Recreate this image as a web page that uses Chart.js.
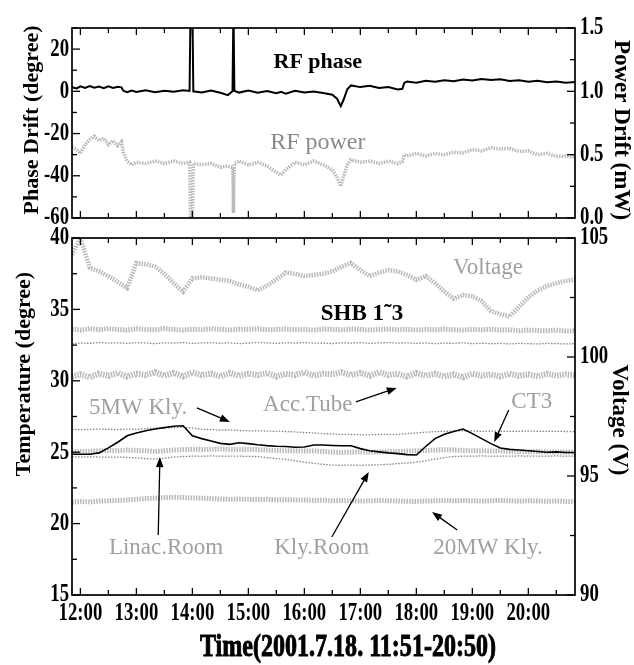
<!DOCTYPE html>
<html>
<head>
<meta charset="utf-8">
<script src="https://cdn.jsdelivr.net/npm/chart.js@4.4.1/dist/chart.umd.min.js"></script>
<style>
  html, body { margin: 0; padding: 0; background: #fff; }
  #wrap { position: relative; width: 634px; height: 665px; }
  canvas { position: absolute; left: 0; }
  #bottomChart { top: 220px; }
  #topChart { top: 0; }
</style>
</head>
<body>
<div id="wrap">
  <canvas id="bottomChart" width="634" height="445"></canvas>
  <canvas id="topChart" width="634" height="232"></canvas>
</div>
<script>
// Top panel: RF phase drift (degree) and RF power drift (mW)
const topTimes = [
  '11:51', '11:56', '12:00', '12:05', '12:10', '12:15', '12:20', '12:25', '12:30', '12:35',
  '12:40', '12:44', '12:46', '12:50', '12:55', '13:00', '13:10', '13:20', '13:30', '13:40',
  '13:50', '13:57', '13:58', '14:00', '14:01', '14:10', '14:20', '14:30', '14:38', '14:43',
  '14:44', '14:45', '14:50', '15:00', '15:10', '15:20', '15:30', '15:35', '15:40', '15:50',
  '16:00', '16:10', '16:20', '16:30', '16:35', '16:39', '16:42', '16:46', '16:50', '17:00',
  '17:10', '17:20', '17:30', '17:40', '17:45', '17:47', '17:50', '18:00', '18:10', '18:20',
  '18:30', '18:40', '18:50', '19:00', '19:10', '19:20', '19:30', '19:40', '19:50', '20:00',
  '20:10', '20:20', '20:30', '20:40', '20:50'
];
const rfPhase = [
  2.0, 1.4, 2.4, 1.6, 2.5, 1.7, 2.3, 1.5, 2.4, 1.6,
  2.2, 1.9, 0.3, -0.4, 0.4, -0.3, 0.5, -0.4, 0.3, -0.2,
  0.5, 0.2, 40, 40, 0.0, -0.6, 0.4, -0.7, -1.8, 0.0,
  40, 0.3, -0.6, 0.4, -0.7, 0.1, -0.9, -0.2, -1.1, 0.3,
  -0.6, -0.1, -0.8, -1.6, -3.5, -7.0, -4.0, 1.0, 2.8, 2.0,
  2.6, 1.6, 2.0, 0.9, 1.2, 4.0, 4.6, 4.1, 5.0, 4.5,
  5.3, 4.8, 5.6, 5.1, 5.8, 5.4, 5.7, 4.9, 5.3, 4.6,
  5.0, 4.3, 4.7, 4.1, 4.4
];
const rfPower = [
  0.56, 0.54, 0.51, 0.58, 0.62, 0.645, 0.61, 0.63, 0.58, 0.61,
  0.57, 0.60, 0.52, 0.45, 0.42, 0.44, 0.43, 0.45, 0.43, 0.45,
  0.43, 0.44, 0.0, 0.0, 0.43, 0.42, 0.43, 0.40, 0.41, 0.40,
  0.04, 0.43, 0.45, 0.42, 0.44, 0.41, 0.36, 0.34, 0.38, 0.44,
  0.42, 0.45, 0.42, 0.38, 0.32, 0.25, 0.33, 0.42, 0.46, 0.44,
  0.45, 0.43, 0.45, 0.43, 0.445, 0.50, 0.49, 0.51, 0.49, 0.51,
  0.50, 0.52, 0.515, 0.54, 0.53, 0.555, 0.545, 0.55, 0.525, 0.53,
  0.50, 0.51, 0.485, 0.49, 0.48
];

// Bottom panel: temperatures (degree) and voltage (V), 10 minute samples
const bottomTimes = [
  '11:51', '12:00', '12:10', '12:20', '12:30', '12:40', '12:50', '13:00', '13:10', '13:20',
  '13:30', '13:40', '13:50', '14:00', '14:10', '14:20', '14:30', '14:40', '14:50', '15:00',
  '15:10', '15:20', '15:30', '15:40', '15:50', '16:00', '16:10', '16:20', '16:30', '16:40',
  '16:50', '17:00', '17:10', '17:20', '17:30', '17:40', '17:50', '18:00', '18:10', '18:20',
  '18:30', '18:40', '18:50', '19:00', '19:10', '19:20', '19:30', '19:40', '19:50', '20:00',
  '20:10', '20:20', '20:30', '20:40', '20:50'
];
const voltage = [
  104.3, 105.0, 103.75, 103.6, 103.4, 103.15, 102.9, 103.95, 103.9, 103.8,
  103.5, 103.1, 102.75, 103.3, 103.35, 103.3, 103.25, 103.2, 103.05, 102.95,
  102.8, 103.0, 103.25, 103.55, 103.5, 103.4, 103.45, 103.5, 103.6, 103.8,
  103.95, 103.65, 103.4, 103.55, 103.65, 103.6, 103.45, 103.24, 103.4, 103.1,
  102.75, 102.45, 102.6, 102.55, 102.35, 101.93, 101.8, 101.7, 102.1, 102.5,
  102.8, 102.98, 103.1, 103.2, 103.25
];
const shb1 = [
  33.62, 33.55, 33.65, 33.58, 33.66, 33.60, 33.55, 33.64, 33.60, 33.57,
  33.66, 33.60, 33.55, 33.62, 33.58, 33.65, 33.60, 33.56, 33.62, 33.60,
  33.64, 33.57, 33.60, 33.63, 33.58, 33.60, 33.55, 33.62, 33.60, 33.57,
  33.63, 33.60, 33.55, 33.60, 33.62, 33.58, 33.60, 33.55, 33.60, 33.57,
  33.62, 33.58, 33.55, 33.60, 33.57, 33.62, 33.55, 33.58, 33.50, 33.55,
  33.52, 33.50, 33.55, 33.48, 33.50
];
const shb2 = [
  32.60, 32.65, 32.62, 32.68, 32.64, 32.66, 32.62, 32.67, 32.65, 32.60,
  32.66, 32.64, 32.68, 32.62, 32.65, 32.67, 32.63, 32.66, 32.60, 32.64,
  32.68, 32.65, 32.62, 32.66, 32.64, 32.68, 32.63, 32.65, 32.60, 32.66,
  32.64, 32.67, 32.62, 32.65, 32.68, 32.64, 32.66, 32.62, 32.65, 32.60,
  32.64, 32.62, 32.66, 32.60, 32.63, 32.60, 32.62, 32.58, 32.62, 32.60,
  32.58, 32.62, 32.60, 32.58, 32.60
];
const accTube = [
  30.30, 30.45, 30.25, 30.50, 30.35, 30.55, 30.30, 30.50, 30.40, 30.60,
  30.35, 30.55, 30.30, 30.60, 30.40, 30.50, 30.30, 30.55, 30.35, 30.50,
  30.40, 30.55, 30.30, 30.50, 30.40, 30.60, 30.35, 30.50, 30.45, 30.60,
  30.40, 30.55, 30.35, 30.60, 30.40, 30.50, 30.30, 30.55, 30.35, 30.50,
  30.30, 30.45, 30.25, 30.50, 30.35, 30.45, 30.30, 30.50, 30.35, 30.45,
  30.30, 30.50, 30.35, 30.45, 30.40
];
const kly5mw = [
  26.60, 26.58, 26.60, 26.62, 26.60, 26.58, 26.62, 26.60, 26.65, 26.68,
  26.70, 26.72, 26.74, 26.70, 26.60, 26.58, 26.55, 26.56, 26.52, 26.50,
  26.50, 26.48, 26.46, 26.45, 26.42, 26.38, 26.35, 26.30, 26.28, 26.25,
  26.24, 26.22, 26.22, 26.24, 26.25, 26.25, 26.30, 26.35, 26.40, 26.44,
  26.46, 26.48, 26.50, 26.48, 26.46, 26.48, 26.47, 26.45, 26.46, 26.48,
  26.46, 26.45, 26.46, 26.45, 26.44
];
const ct3 = [
  24.86, 24.86, 24.86, 24.95, 25.30, 25.70, 26.15, 26.35, 26.50, 26.62,
  26.72, 26.82, 26.85, 26.15, 25.95, 25.78, 25.62, 25.55, 25.66, 25.60,
  25.52, 25.46, 25.42, 25.40, 25.35, 25.36, 25.50, 25.50, 25.47, 25.45,
  25.45, 25.25, 25.10, 25.02, 24.95, 24.90, 24.83, 24.80, 25.40, 25.95,
  26.25, 26.45, 26.62, 26.30, 25.95, 25.60, 25.30, 25.20, 25.15, 25.10,
  25.05, 25.00, 25.02, 24.98, 24.98
];
const linacRoom = [
  25.00, 25.05, 25.05, 25.10, 25.12, 25.10, 25.15, 25.12, 25.10, 25.05,
  25.10, 25.15, 25.18, 25.20, 25.18, 25.20, 25.22, 25.20, 25.18, 25.20,
  25.18, 25.15, 25.12, 25.10, 25.10, 25.08, 25.10, 25.05, 25.00, 24.98,
  25.00, 25.02, 25.00, 25.02, 25.05, 25.05, 25.08, 25.10, 25.12, 25.15,
  25.18, 25.15, 25.12, 25.10, 25.10, 25.08, 25.10, 25.05, 25.05, 25.02,
  25.05, 25.02, 25.00, 25.02, 25.00
];
const klyRoom = [
  24.68, 24.66, 24.68, 24.66, 24.65, 24.66, 24.64, 24.60, 24.55, 24.52,
  24.58, 24.66, 24.70, 24.72, 24.72, 24.74, 24.72, 24.73, 24.72, 24.70,
  24.70, 24.62, 24.55, 24.50, 24.40, 24.30, 24.22, 24.15, 24.10, 24.08,
  24.10, 24.08, 24.10, 24.12, 24.15, 24.20, 24.24, 24.30, 24.40, 24.52,
  24.62, 24.70, 24.72, 24.72, 24.74, 24.72, 24.73, 24.72, 24.74, 24.72,
  24.73, 24.72, 24.74, 24.72, 24.73
];
const kly20mw = [
  21.50, 21.55, 21.52, 21.58, 21.60, 21.62, 21.66, 21.70, 21.75, 21.78,
  21.82, 21.85, 21.82, 21.80, 21.78, 21.75, 21.72, 21.70, 21.72, 21.70,
  21.68, 21.70, 21.66, 21.68, 21.65, 21.66, 21.62, 21.64, 21.60, 21.62,
  21.60, 21.58, 21.60, 21.62, 21.60, 21.58, 21.56, 21.55, 21.58, 21.60,
  21.62, 21.60, 21.62, 21.60, 21.58, 21.60, 21.62, 21.60, 21.58, 21.60,
  21.58, 21.56, 21.58, 21.55, 21.56
];

// tick labels
const hourTicks = [12, 13, 14, 15, 16, 17, 18, 19, 20];
const phaseTicks = ['20', '0', '-20', '-40', '-60'];
const powerTicks = ['1.5', '1.0', '0.5', '0.0'];
const tempTicks = ['40', '35', '30', '25', '20', '15'];
const voltTicks = ['105', '100', '95', '90'];

const SERIF = '"Liberation Serif", "Times New Roman", serif';

function toHour(s) {
  const [h, m] = s.split(':');
  return Number(h) + Number(m) / 60;
}

function pts(times, values) {
  return times.map((t, i) => ({ x: toHour(t), y: values[i] }));
}

// scanned halftone look for the grey traces
const halftone = (w) => ({ borderColor: 'rgba(115,115,115,0.5)', borderWidth: w, borderDash: [1.5, 1.2] });
const dotted = { borderColor: 'rgba(80,80,80,0.7)', borderWidth: 1.3, borderDash: [1.5, 1.5] };

function seg(ctx, x1, y1, x2, y2) {
  ctx.beginPath();
  ctx.moveTo(x1, y1);
  ctx.lineTo(x2, y2);
  ctx.stroke();
}

// bold condensed label, like the scanned tick numbers
function squeeze(ctx, text, x, y, align) {
  ctx.save();
  ctx.font = 'bold 25px ' + SERIF;
  ctx.textAlign = 'left';
  ctx.textBaseline = 'middle';
  const sx = 0.75;
  const w = ctx.measureText(text).width * sx;
  const left = align === 'right' ? x - w : align === 'center' ? x - w / 2 : x;
  ctx.translate(left, y);
  ctx.scale(sx, 1);
  ctx.fillStyle = '#000';
  ctx.fillText(text, 0, 0);
  ctx.restore();
}

function arrow(ctx, x1, y1, x2, y2) {
  const ang = Math.atan2(y2 - y1, x2 - x1);
  const L = 10, W = 3.8;
  ctx.strokeStyle = '#000';
  ctx.fillStyle = '#000';
  ctx.lineWidth = 1.3;
  seg(ctx, x1, y1, x2 - L * 0.7 * Math.cos(ang), y2 - L * 0.7 * Math.sin(ang));
  ctx.beginPath();
  ctx.moveTo(x2, y2);
  ctx.lineTo(x2 - L * Math.cos(ang) + W * Math.sin(ang), y2 - L * Math.sin(ang) - W * Math.cos(ang));
  ctx.lineTo(x2 - L * Math.cos(ang) - W * Math.sin(ang), y2 - L * Math.sin(ang) + W * Math.cos(ang));
  ctx.closePath();
  ctx.fill();
}

function drawTitle(ctx, t) {
  ctx.save();
  ctx.translate(t.x, t.y);
  ctx.rotate(t.rot || 0);
  ctx.font = 'bold ' + t.size + 'px ' + SERIF;
  ctx.textAlign = 'center';
  ctx.textBaseline = 'middle';
  ctx.fillStyle = '#000';
  if (t.width) {
    const w = ctx.measureText(t.text).width;
    ctx.scale(t.width / w, 1);
    ctx.strokeStyle = '#000';
    ctx.lineWidth = 1;
    ctx.strokeText(t.text, 0, 0);
  }
  ctx.fillText(t.text, 0, 0);
  ctx.restore();
}

// frame, inward ticks, tick labels, notes and axis titles
function makeDecor(cfg) {
  return {
    id: 'decor',
    afterDatasetsDraw(chart) {
      const { ctx, chartArea: a, scales } = chart;
      const xs = scales.x;
      ctx.save();
      ctx.strokeStyle = '#000';
      ctx.lineWidth = 1.7;
      ctx.strokeRect(a.left, a.top, a.right - a.left, a.bottom - a.top);

      ctx.lineWidth = 1.3;
      for (let h = 12; h <= 20.5; h += 0.5) {
        const x = xs.getPixelForValue(h);
        const len = h % 1 === 0 ? 7 : 5;
        seg(ctx, x, a.top, x, a.top + len);
        seg(ctx, x, a.bottom, x, a.bottom - len);
      }

      [cfg.left, cfg.right].forEach((side, k) => {
        const sc = scales[side.axis];
        const nums = side.labels.map(Number);
        ctx.strokeStyle = '#000';
        ctx.lineWidth = 1.3;
        for (let v = sc.min; v <= sc.max + 1e-9; v += side.minor) {
          const y = sc.getPixelForValue(v);
          const len = nums.some(n => Math.abs(n - v) < 1e-6) ? 8 : 5;
          if (k === 0) seg(ctx, a.left, y, a.left + len, y);
          else seg(ctx, a.right, y, a.right - len, y);
        }
        side.labels.forEach(lab => {
          const y = sc.getPixelForValue(Number(lab));
          if (k === 0) squeeze(ctx, lab, a.left - 3, y, 'right');
          else squeeze(ctx, lab, a.right + 5, y, 'left');
        });
      });

      if (cfg.hourLabels) {
        cfg.hourLabels.forEach(h => squeeze(ctx, h + ':00', xs.getPixelForValue(h), a.bottom + 19, 'center'));
      }

      (cfg.notes || []).forEach(n => {
        const sc = scales[cfg.noteAxis];
        ctx.save();
        ctx.font = (n.bold ? 'bold ' : '') + n.size + 'px ' + SERIF;
        ctx.fillStyle = n.color;
        ctx.textAlign = 'center';
        ctx.textBaseline = 'middle';
        ctx.fillText(n.text, xs.getPixelForValue(n.t), sc.getPixelForValue(n.v));
        if (n.arrow) {
          arrow(ctx,
            xs.getPixelForValue(n.arrow[0]), sc.getPixelForValue(n.arrow[1]),
            xs.getPixelForValue(n.arrow[2]), sc.getPixelForValue(n.arrow[3]));
        }
        ctx.restore();
      });

      (cfg.titles || []).forEach(t => drawTitle(ctx, t));
      ctx.restore();
    }
  };
}

const xRange = { type: 'linear', display: false, min: toHour('11:51'), max: toHour('20:50') };
const GREY_TEXT = '#a0a0a0';

const baseOptions = (padding, scales) => ({
  responsive: false,
  animation: false,
  devicePixelRatio: 1,
  layout: { padding },
  plugins: { legend: { display: false }, tooltip: { enabled: false } },
  elements: { point: { radius: 0 }, line: { tension: 0 } },
  scales
});

new Chart(document.getElementById('topChart'), {
  type: 'line',
  data: {
    datasets: [
      { label: 'RF phase', data: pts(topTimes, rfPhase), yAxisID: 'yPhase',
        borderColor: '#000', borderWidth: 2 },
      { label: 'RF power', data: pts(topTimes, rfPower), yAxisID: 'yPower', ...halftone(3.5) }
    ]
  },
  options: baseOptions({ left: 72, right: 59, top: 28, bottom: 14 }, {
    x: xRange,
    yPhase: { display: false, min: -60, max: 30 },
    yPower: { display: false, min: 0, max: 1.5 }
  }),
  plugins: [makeDecor({
    left: { axis: 'yPhase', minor: 10, labels: phaseTicks },
    right: { axis: 'yPower', minor: 0.25, labels: powerTicks },
    noteAxis: 'yPhase',
    notes: [
      { text: 'RF phase', t: 16.24, v: 13.9, size: 22, bold: true, color: '#000' },
      { text: 'RF power', t: 16.24, v: -24.5, size: 24, color: '#8a8a8a' }
    ],
    titles: [
      { text: 'Phase Drift (degree)', x: 32, y: 120, rot: -Math.PI / 2, size: 22 },
      { text: 'Power Drift (mW)', x: 621, y: 130, rot: Math.PI / 2, size: 23 }
    ]
  })]
});

new Chart(document.getElementById('bottomChart'), {
  type: 'line',
  data: {
    datasets: [
      { label: 'CT3', data: pts(bottomTimes, ct3), yAxisID: 'yTemp', borderColor: '#000', borderWidth: 1.6 },
      { label: 'Voltage', data: pts(bottomTimes, voltage), yAxisID: 'yVolt', ...halftone(4.5) },
      { label: 'SHB 1', data: pts(bottomTimes, shb1), yAxisID: 'yTemp', ...halftone(5) },
      { label: 'SHB 2', data: pts(bottomTimes, shb2), yAxisID: 'yTemp', ...dotted },
      { label: 'Acc.Tube', data: pts(bottomTimes, accTube), yAxisID: 'yTemp', ...halftone(6) },
      { label: '5MW Kly.', data: pts(bottomTimes, kly5mw), yAxisID: 'yTemp', ...dotted },
      { label: 'Linac.Room', data: pts(bottomTimes, linacRoom), yAxisID: 'yTemp', ...halftone(5) },
      { label: 'Kly.Room', data: pts(bottomTimes, klyRoom), yAxisID: 'yTemp', ...dotted },
      { label: '20MW Kly.', data: pts(bottomTimes, kly20mw), yAxisID: 'yTemp', ...halftone(5) }
    ]
  },
  options: baseOptions({ left: 72, right: 59, top: 18, bottom: 70 }, {
    x: xRange,
    yTemp: { display: false, min: 15, max: 40 },
    yVolt: { display: false, min: 90, max: 105 }
  }),
  plugins: [makeDecor({
    left: { axis: 'yTemp', minor: 2.5, labels: tempTicks },
    right: { axis: 'yVolt', minor: 2.5, labels: voltTicks },
    hourLabels: hourTicks,
    noteAxis: 'yTemp',
    notes: [
      { text: 'Voltage', t: 19.28, v: 37.9, size: 23, color: GREY_TEXT },
      { text: 'SHB 1\u02DC3', t: 17.03, v: 34.68, size: 23, bold: true, color: '#000' },
      { text: '5MW Kly.', t: 13.03, v: 28.1, size: 23, color: GREY_TEXT, arrow: [14.08, 28.1, 14.67, 27.12] },
      { text: 'Acc.Tube', t: 16.06, v: 28.31, size: 23, color: GREY_TEXT, arrow: [16.92, 28.52, 17.65, 29.5] },
      { text: 'CT3', t: 20.06, v: 28.52, size: 23, color: GREY_TEXT, arrow: [19.65, 27.96, 19.39, 25.71] },
      { text: 'Linac.Room', t: 13.53, v: 18.29, size: 23, color: GREY_TEXT, arrow: [13.39, 19.2, 13.42, 24.66] },
      { text: 'Kly.Room', t: 16.31, v: 18.29, size: 23, color: GREY_TEXT, arrow: [16.49, 19.06, 17.15, 23.61] },
      { text: '20MW Kly.', t: 19.28, v: 18.29, size: 23, color: GREY_TEXT, arrow: [18.73, 19.55, 18.28, 20.81] }
    ],
    titles: [
      { text: 'Temperature (degree)', x: 24, y: 154, rot: -Math.PI / 2, size: 22 },
      { text: 'Voltage (V)', x: 619, y: 200, rot: Math.PI / 2, size: 23 },
      { text: 'Time(2001.7.18. 11:51-20:50)', x: 348, y: 428, size: 32, width: 296 }
    ]
  })]
});
</script>
</body>
</html>
